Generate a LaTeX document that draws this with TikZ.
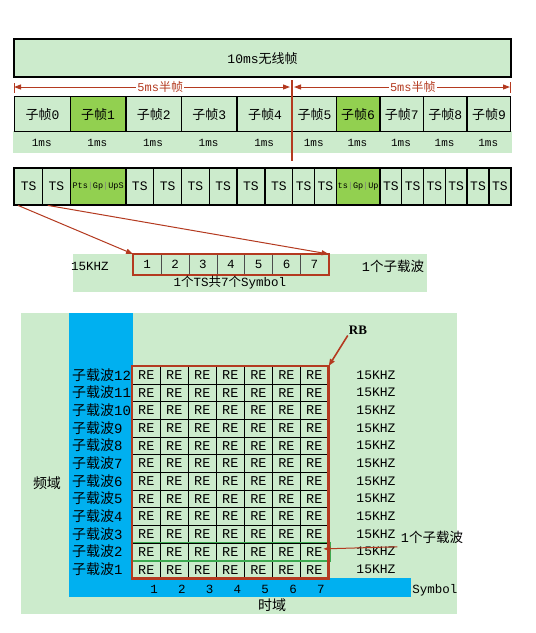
\documentclass[tikz,border=0pt]{standalone}
\usepackage{fontspec}
\setmainfont{Liberation Mono}
\newfontfamily\cjk{Noto Sans CJK SC}
\newfontfamily\rbfont{Liberation Serif}
\usetikzlibrary{arrows.meta}
\definecolor{paleg}{RGB}{204,235,204}
\definecolor{limeg}{RGB}{146,208,80}
\definecolor{skyb}{RGB}{0,176,240}
\definecolor{rust}{RGB}{180,58,32}
\definecolor{rowg}{RGB}{60,170,80}

\begin{document}
\begin{tikzpicture}[x=1pt,y=-1pt,
  cell/.style={draw, line width=1.4pt, fill=paleg, inner sep=0pt, anchor=north west},
  re/.style={draw, line width=.7pt, fill=paleg, inner sep=0pt, anchor=north west,
    minimum width=28pt, minimum height=17.67pt},
  redarrow/.style={rust, line width=1pt, -{Triangle[length=7pt,width=5pt]}},
  fs/.style={font=\fontsize{#1}{#1}\selectfont}]
\useasboundingbox (0,0) rectangle (536,633);
\fill[white] (0,0) rectangle (536,633);

% radio frame
\node[cell, line width=2.2pt, minimum width=497pt, minimum height=38pt, fs=13] (frame) at (13,38) {10ms{\cjk 无线帧}};

% two half frames
\coordinate (hl) at (14,87);
\coordinate (hm) at (292,87);
\coordinate (hr) at (510,87);
\draw[rust, line width=1pt, {Triangle[length=7pt,width=5pt]}-{Triangle[length=7pt,width=5pt]}]
  (hl) -- node[pos=.53, fill=white, inner sep=1pt, fs=12] (half1) {5ms{\cjk 半帧}} ([xshift=-2pt]hm);
\draw[rust, line width=1pt, {Triangle[length=7pt,width=5pt]}-{Triangle[length=7pt,width=5pt]}]
  ([xshift=2pt]hm) -- node[pos=.55, fill=white, inner sep=1pt, fs=12] (half2) {5ms{\cjk 半帧}} (hr);
\draw[rust, line width=1pt] ([yshift=4pt]hl) -- ([yshift=-6pt]hl);
\draw[rust, line width=1pt] ([yshift=5pt]hr) -- ([yshift=-6pt]hr);

% subframes
\fill[paleg] (13,131) rectangle (512,153);
\foreach \i/\x/\w/\c in {0/14/55.6/paleg,1/69.6/55.6/limeg,2/125.2/55.6/paleg,3/180.8/55.6/paleg,4/236.4/55.6/paleg,%
    5/292/43.6/paleg,6/335.6/43.6/limeg,7/379.2/43.6/paleg,8/422.8/43.6/paleg,9/466.4/43.6/paleg}{%
  \node[cell, fill=\c, minimum width=\w*1pt, minimum height=35pt, fs=13] (sf\i) at (\x,96) {{\cjk 子帧}\i};
  \node[fs=11] (ms\i) at (\x+\w/2,143) {1ms};}

% time slots
\foreach \n/\x/\w in {0/14/27.8,1/41.8/27.8,2/125.2/27.8,3/153/27.8,4/180.8/27.8,5/208.6/27.8,6/236.4/27.8,7/264.2/27.8,%
    8/292/21.8,9/313.8/21.8,10/379.2/21.8,11/401/21.8,12/422.8/21.8,13/444.6/21.8,14/466.4/21.8,15/488.2/21.8}
  \node[cell, minimum width=\w*1pt, minimum height=36pt, fs=13] (ts\n) at (\x,168) {TS};
\node[cell, fill=limeg, minimum width=55.6pt, minimum height=36pt, fs=8.5] (dw1) at (69.6,168)
  {Pts{\color{gray}|}Gp{\color{gray}|}UpS};
\node[cell, fill=limeg, minimum width=43.6pt, minimum height=36pt, fs=8.5] (dw6) at (335.6,168)
  {ts{\color{gray}|}Gp{\color{gray}|}Up};
\draw[line width=2pt] (ts0.north west) rectangle (ts15.south east);

% divider between the half frames
\coordinate (dtop) at (292,80);
\coordinate (dbot) at (292,161);
\draw[rust, line width=2pt] (dtop) -- (dbot);

% one slot = 7 symbols
\fill[paleg] (73,254) rectangle (427,292);
\foreach \j in {1,...,7}
  \node[draw=black!70, line width=.6pt, fill=paleg, inner sep=0pt, anchor=north west,
    minimum width=27.86pt, minimum height=20pt, fs=12.5] (sb\j) at (133+27.86*\j-27.86,254) {\j};
\draw[rust, line width=2pt] (sb1.north west) rectangle (sb7.south east);
\node[fs=12.5] (khz) at (90,266) {15KHZ};
\node[fs=13.5] (onesub) at (393,266) {1{\cjk 个子载波}};
\node[fs=12.5] (tsinfo) at (230,283) {1{\cjk 个}TS{\cjk 共}7{\cjk 个}Symbol};
\draw[redarrow] ([xshift=4pt]ts0.south west) -- (sb1.north west);
\draw[redarrow] ([xshift=6pt]ts1.south west) -- (sb7.north east);

% resource block
\fill[paleg] (21,313) rectangle (457,614);
\fill[skyb] (69,313) rectangle (133,597);
\fill[skyb] (69,578) rectangle (411,597);
\foreach \r in {1,...,12}{%
  \foreach \c in {1,...,7}
    \node[re, fs=13.5] (re\r-\c) at (132+28*\c-28,366+17.67*12-17.67*\r) {RE};
  \node[anchor=west, inner sep=0pt, fs=14] (sc\r) at (72,374.8+17.67*12-17.67*\r) {{\cjk 子载波}\r};
  \node[fs=13] (hz\r) at (376,374.8+17.67*12-17.67*\r) {15KHZ};}
\draw[rowg, line width=1.5pt] (re2-1.north west) rectangle ([xshift=2pt]re2-7.south east);
\draw[rust, line width=2.5pt] (re12-1.north west) rectangle (re1-7.south east);
\foreach \c in {1,...,7}
  \node[anchor=base, fs=12.5] (num\c) at (154+27.8*\c-27.8,593) {\c};
\node[anchor=base, fs=12.5] (symlbl) at (435,593) {Symbol};
\node[fs=14] (tdom) at (272,605) {\cjk 时域};
\node[fs=14] (fdom) at (47,483) {\cjk 频域};
\node[inner sep=1pt, font={\rbfont\bfseries\fontsize{13}{13}\selectfont}] (rb) at (358,330) {RB};
\draw[redarrow, line width=1.6pt] (rb.south west) -- (re12-7.north east);
\node[fs=13.5] (onesc) at (432,537) {1{\cjk 个子载波}};
\draw[redarrow] (onesc.south west) -- ([xshift=9pt,yshift=3pt]re2-7.center);

\end{tikzpicture}
\end{document}
